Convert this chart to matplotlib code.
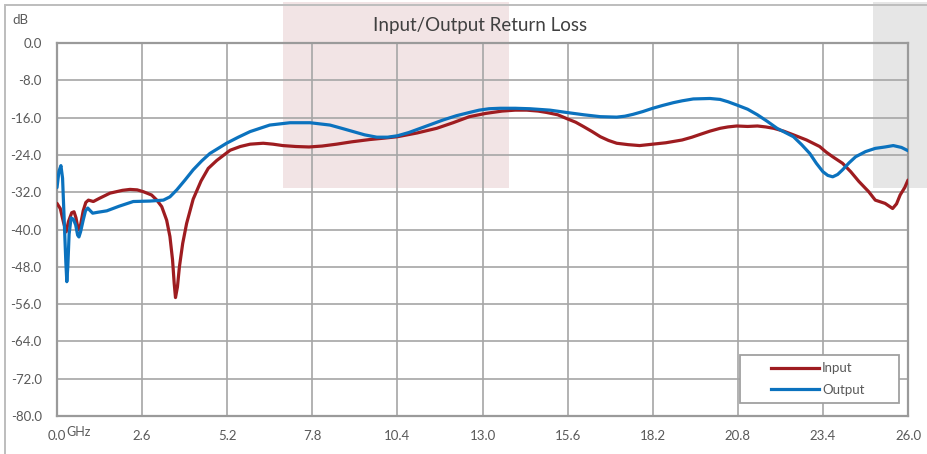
import matplotlib
matplotlib.use("Agg")
import matplotlib.pyplot as plt
from matplotlib.patches import Rectangle
from matplotlib.lines import Line2D

plt.rcParams['font.family'] = ['Lato', 'DejaVu Sans']

title = "Input/Output Return Loss"
series_names = ["Input", "Output"]
x_ticks = [0.0, 2.6, 5.2, 7.8, 10.4, 13.0, 15.6, 18.2, 20.8, 23.4, 26.0]
y_ticks = [0.0, -8.0, -16.0, -24.0, -32.0, -40.0, -48.0, -56.0, -64.0, -72.0, -80.0]

input_freq = [0.0, 0.1, 0.2, 0.28, 0.35, 0.45, 0.52, 0.58, 0.65, 0.72, 0.8, 0.88, 0.96,
              1.11, 1.3, 1.62, 2.0, 2.23, 2.45, 2.64, 2.89, 3.05, 3.2, 3.35, 3.45, 3.53,
              3.58, 3.62, 3.68, 3.74, 3.84, 3.96, 4.16, 4.4, 4.62, 4.88, 5.29, 5.6, 5.9,
              6.3, 6.6, 6.9, 7.3, 7.7, 8.1, 8.54, 9.0, 9.56, 10.0, 10.4, 11.0, 11.6, 12.1,
              12.6, 13.1, 13.6, 14.0, 14.35, 14.7, 14.96, 15.3, 15.57, 15.85, 16.08, 16.35,
              16.6, 16.85, 17.1, 17.45, 17.8, 18.2, 18.6, 19.1, 19.4, 19.65, 19.95, 20.26,
              20.5, 20.77, 21.1, 21.4, 21.65, 21.9, 22.2, 22.5, 22.9, 23.3, 23.5, 23.7, 24.0,
              24.25, 24.5, 24.8, 25.0, 25.3, 25.53, 25.65, 25.76, 25.9, 26.0]
input_db = [-34.4, -35.5, -38.5, -40.5, -38.3, -36.4, -36.2, -37.5, -40.1, -39.0, -36.0,
            -34.2, -33.7, -34.0, -33.3, -32.2, -31.6, -31.4, -31.5, -31.9, -32.6, -33.7,
            -35.1, -38.0, -41.5, -46.5, -51.5, -54.6, -52.3, -48.0, -43.0, -38.7, -33.5,
            -29.6, -26.9, -25.2, -23.0, -22.2, -21.7, -21.5, -21.7, -22.0, -22.2, -22.3,
            -22.1, -21.7, -21.2, -20.7, -20.4, -20.1, -19.3, -18.3, -17.1, -15.8, -15.1,
            -14.6, -14.4, -14.4, -14.6, -14.9, -15.4, -16.2, -17.0, -17.9, -19.0, -20.1,
            -20.9, -21.5, -21.8, -22.0, -21.7, -21.4, -20.8, -20.2, -19.6, -18.9, -18.3,
            -18.0, -17.8, -17.9, -17.8, -18.0, -18.3, -18.9, -19.7, -20.8, -22.2, -23.4,
            -24.4, -25.8, -27.6, -29.7, -31.9, -33.7, -34.4, -35.5, -34.5, -32.6, -31.0,
            -29.4]

output_freq = [0.0, 0.06, 0.12, 0.17, 0.22, 0.27, 0.3, 0.33, 0.37, 0.43, 0.5, 0.57, 0.63,
               0.67, 0.72, 0.8, 0.87, 0.94, 1.02, 1.09, 1.25, 1.52, 1.9, 2.33, 2.84, 3.25,
               3.45, 3.66, 3.91, 4.16, 4.42, 4.67, 5.18, 5.54, 5.9, 6.5, 7.12, 7.73, 8.34,
               8.7, 9.05, 9.4, 9.77, 10.1, 10.4, 10.75, 11.1, 11.45, 11.8, 12.2, 12.6, 12.9,
               13.2, 13.54, 14.0, 14.45, 15.06, 15.57, 16.1, 16.6, 17.1, 17.35, 17.6, 17.9,
               18.2, 18.5, 18.83, 19.1, 19.44, 19.95, 20.26, 20.5, 20.77, 21.1, 21.4, 21.7,
               22.0, 22.5, 22.75, 23.0, 23.2, 23.4, 23.55, 23.7, 23.85, 24.0, 24.2, 24.4,
               24.7, 25.0, 25.3, 25.55, 25.8, 26.0]
output_db = [-31.0, -27.5, -26.3, -29.0, -38.0, -47.0, -51.2, -48.0, -41.0, -37.5, -37.8,
             -39.0, -41.2, -41.6, -40.5, -38.0, -36.0, -35.4, -36.0, -36.5, -36.3, -36.0,
             -35.0, -34.0, -33.9, -33.7, -33.0, -31.5, -29.4, -27.2, -25.3, -23.7, -21.5,
             -20.2, -19.0, -17.6, -17.1, -17.1, -17.6, -18.3, -19.0, -19.7, -20.2, -20.2,
             -19.9, -19.2, -18.3, -17.4, -16.5, -15.6, -14.9, -14.4, -14.1, -14.0, -14.0,
             -14.1, -14.4, -14.9, -15.4, -15.8, -15.9, -15.7, -15.3, -14.7, -14.0, -13.4,
             -12.8, -12.4, -12.0, -11.9, -12.1, -12.6, -13.3, -14.2, -15.4, -16.8, -18.3,
             -20.1, -21.8, -23.7, -25.8, -27.6, -28.4, -28.7, -28.2, -27.2, -25.7, -24.4,
             -23.3, -22.6, -22.3, -22.0, -22.4, -23.1]

W, H = 927, 454
fig = plt.figure(figsize=(W / 100, H / 100), dpi=100)
fig.patch.set_facecolor("white")
ax = fig.add_axes([57 / W, 1 - 416 / H, (908 - 57) / W, (416 - 43) / H])

red = "#9E1C20"
blue = "#0B72BE"
grid_c = "#A6A6A6"
text_c = "#595959"

ax.set_xlim(0, 26)
ax.set_ylim(-80, 0)

# shaded bands (extend outside axes)
ax.add_patch(Rectangle((6.90, -31.2), 13.82 - 6.90, 40, facecolor="#F2E4E5",
                       edgecolor="none", clip_on=False, zorder=0.2))
ax.add_patch(Rectangle((24.93, -31.2), 3.0, 40, facecolor="#E6E6E6",
                       edgecolor="none", clip_on=False, zorder=0.2))

ax.plot(input_freq, input_db, color=red, lw=2.3, solid_joinstyle="round",
        solid_capstyle="round", zorder=3)
ax.plot(output_freq, output_db, color=blue, lw=2.3, solid_joinstyle="round",
        solid_capstyle="round", zorder=3)

ax.set_axisbelow(True)
ax.set_xticks(x_ticks)
ax.set_yticks(y_ticks)
ax.set_xticklabels([f"{v:.1f}" for v in x_ticks])
ax.set_yticklabels([f"{v:.1f}" if v != 0 else "0.0" for v in y_ticks])
ax.grid(True, color=grid_c, lw=1.2)
ax.tick_params(length=0, labelsize=9.5, colors=text_c, pad=10)
ax.tick_params(axis="y", pad=11)
for s in ax.spines.values():
    s.set_color("#9A9A9A")
    s.set_linewidth(1.6)
ax.set_facecolor("none")

fig.text(480 / W, 1 - 25 / H, title, ha="center", va="center", fontsize=13.5,
         color="#404040")
fig.text(12 / W, 1 - 20 / H, "dB", ha="left", va="center", fontsize=9.5, color=text_c)
fig.text(66 / W, 1 - 432 / H, "GHz", ha="left", va="center", fontsize=9, color=text_c)

# legend box
fig.patches.append(Rectangle((740 / W, 1 - 403 / H), 159 / W, 48 / H,
                             transform=fig.transFigure, facecolor="white",
                             edgecolor="#A0A0A0", lw=1.3, zorder=5))
handles = [Line2D([], [], color=red, lw=2.3), Line2D([], [], color=blue, lw=2.3)]
leg = fig.legend(handles, series_names, loc="center",
                 bbox_to_anchor=(818 / W, 1 - 379 / H), frameon=False,
                 fontsize=9.5, handlelength=3.6, handletextpad=0.25, labelspacing=0.7,
                 labelcolor=text_c)
leg.set_zorder(6)

# outer border
fig.patches.append(Rectangle((4.5 / W, -0.2), 1.2, 1.2 - 4.5 / H,
                             transform=fig.transFigure, facecolor="none",
                             edgecolor="#BDBDBD", lw=1.4, zorder=10))

fig.savefig("out.png", dpi=100)
